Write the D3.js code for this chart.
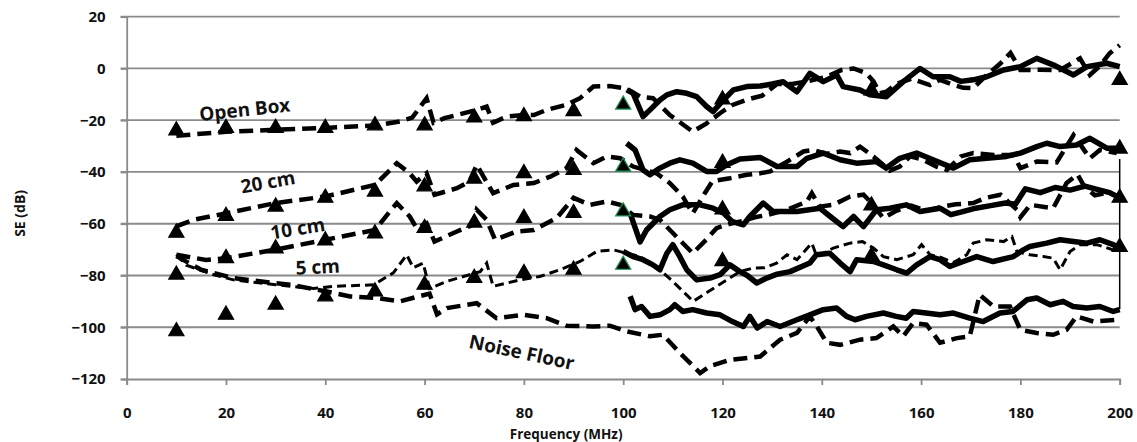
<!DOCTYPE html>
<html>
<head>
<meta charset="utf-8">
<script src="https://cdn.jsdelivr.net/npm/d3@7"></script>
<style>
  body { margin: 0; background: #fff; }
  text { font-family: "Open Sans", "DejaVu Sans", sans-serif; font-weight: bold; fill: #111; }
</style>
</head>
<body>
<div class="chart"></div>
<script>
// ---- data: [frequency MHz, SE dB] ----
let xTicks = [0, 20, 40, 60, 80, 100, 120, 140, 160, 180, 200];
let yTicks = [-120, -100, -80, -60, -40, -20, 0, 20];
let seriesNames = ["Open Box", "20 cm", "10 cm", "5 cm", "Noise Floor"];

let markersOpen = [[10,-24],[20,-23],[30,-23],[40,-23],[50,-22],[60,-22],[70,-19],[80,-18.5],[90,-16.5],[100,-14],[120,-12],[150,-8.5],[200,-4.5]];
let markers20 = [[10,-63.5],[20,-57],[30,-53.4],[40,-50],[50,-47.6],[60,-45.6],[70,-42.6],[80,-40.5],[90,-39.2],[100,-38],[120,-36.5],[200,-31]];
let markers10 = [[10,-79.7],[20,-73.3],[30,-69.6],[40,-66.5],[50,-63.8],[60,-61.7],[70,-59.6],[80,-57.8],[90,-55.9],[100,-55.3],[120,-54.5],[150,-53],[200,-50]];
let markers5 = [[10,-101.6],[20,-95.2],[30,-91.3],[40,-88.1],[50,-86.2],[60,-83.6],[70,-81],[80,-79.1],[90,-77.8],[100,-75.9],[120,-74.5],[150,-72.5],[200,-69]];

let openDash = [[10,-26],[20,-24.5],[30,-23.7],[40,-23],[50,-22],[55,-20.5],[57.5,-19],[60.4,-11.5],[61.8,-21],[64,-19.2],[70.5,-16],[72.5,-14.7],[73.8,-21],[76.5,-18.6],[80,-18],[82,-18],[84.6,-16],[88.6,-14],[91.3,-11.5],[94,-7],[97.3,-6.8],[100.7,-7.8],[103.4,-10.9],[106,-11.5],[109.4,-18],[114,-24.4],[116.8,-21.2],[119.5,-17.3],[122,-14.1],[125,-12],[128,-10.5],[131,-6],[134,-6],[137,-5],[141,-3.2],[144,-0.6],[146.4,0],[149,-1.9],[150.4,-5],[151.7,-9.6],[153,-9],[155,-6],[158,-4],[161.8,-6.4],[163.8,-4.4],[166,-6],[168.5,-7.5],[170.5,-7.6],[173,-3],[176,2],[178,6],[180,-0.6],[184,-0.5],[188,-0.6],[192,3.9],[194,-2.5],[196,1],[198,5.9],[200,9]];
let openSolid = [[100.7,-8.3],[102,-9.6],[104,-18.6],[105.4,-16],[107.4,-12.2],[108.8,-10.2],[110.8,-9],[112.8,-9.6],[114.8,-10.9],[116.8,-14.7],[118.1,-16.7],[120.2,-12.2],[122.2,-8.3],[124.9,-7],[127.6,-6.8],[130,-6],[132.2,-5.1],[135,-9],[137.6,-1.9],[140.3,-5.1],[143,-2.5],[144.3,-7],[147.7,-8.3],[149.7,-10.2],[153,-10.9],[156.4,-5.1],[159.8,0],[162.4,-3.2],[165.8,-3.2],[168,-5],[170.5,-4.4],[173.2,-3.2],[176.6,-0.6],[180,0.7],[183.3,3.9],[186.6,1.4],[190.7,-2.5],[193.4,0.7],[197.4,2],[200,0.7]];

let dash20 = [[10,-61],[13.4,-58.5],[20,-56],[30,-52],[40,-49.5],[50,-45],[54.4,-36.6],[57,-40.5],[58.4,-43.7],[60.4,-40.5],[62,-48.8],[66.5,-46.3],[69,-43.7],[70.5,-37.3],[73.8,-48.2],[77.9,-45],[82,-44.3],[85.3,-41.8],[88.6,-38.5],[90.6,-31.5],[94,-36.6],[96.7,-34],[99.4,-34.7],[102,-37.9],[106.7,-40.5],[109.4,-44.3],[112,-49.5],[114,-56],[116.5,-48],[118,-43.5],[121.5,-42.4],[124.9,-41.1],[127.6,-40.5],[129.6,-39.8],[133,-36],[136.3,-32.1],[138.3,-31.5],[141,-33],[143.7,-32.1],[145.7,-32.7],[147.7,-30.2],[150.4,-34],[152.4,-37.3],[153.7,-39.5],[155.7,-37.9],[157.8,-34],[160.4,-35.3],[163.1,-37.9],[165.2,-39.2],[168,-34],[170.5,-32.7],[174.6,-33.4],[178.6,-33.4],[180,-38.5],[183.3,-36],[187.3,-36.3],[190.7,-25.7],[194,-34.7],[196,-31.5],[199.4,-32.7]];
let solid20 = [[100.7,-28.9],[102.4,-31.5],[104,-39.2],[105.4,-41.1],[107.4,-38.5],[109.4,-36.6],[111.4,-35.3],[114,-36.6],[116.8,-39.8],[118.8,-39.8],[120.8,-37.3],[123.5,-35],[127.6,-34.4],[131,-37.9],[135,-37.9],[137,-34.7],[140.3,-32.7],[143.7,-35.3],[147,-36.6],[151,-36],[153,-38.5],[155.7,-34.7],[159.1,-32.7],[162.4,-35.3],[166.5,-38.5],[169.8,-35.3],[173.2,-34.7],[177.2,-34],[180,-32.7],[183.3,-30.2],[185.3,-28.9],[188,-30.2],[191.3,-29.6],[194,-27],[197.4,-30.8],[200,-30.8]];

let dash10 = [[10,-72],[16,-74],[20,-73.3],[30,-70],[40,-66.2],[50,-62.4],[54.4,-52],[57,-57.2],[58.4,-61.7],[60.4,-59.8],[62,-66.9],[66.5,-63],[69.8,-60.4],[70.5,-54.6],[72.5,-58.5],[74.2,-66.2],[78.5,-63],[82,-62.4],[86.6,-57.8],[90,-50],[93.3,-52.7],[96.7,-51.4],[99.4,-52.7],[102,-56.6],[105.4,-57.2],[107.4,-58.5],[110,-63.6],[114,-71.4],[116.8,-66],[118.8,-61.7],[121.5,-60],[124,-59],[126.5,-57.5],[129,-56.6],[133,-54.6],[137,-51.4],[138,-48.2],[139.6,-53.4],[142.3,-52.7],[145.7,-49.5],[148.4,-48.8],[150,-52],[152.4,-57.8],[155,-55],[158,-53],[161,-55],[164,-53.5],[167,-52.5],[170.5,-52],[173,-50],[176,-48.8],[179.3,-54.6],[180,-57.5],[182,-52.7],[186.6,-54],[189.3,-44.3],[191.5,-41],[193,-46],[195,-49],[197.5,-48],[200,-49.5]];
let solid10 = [[101.4,-56],[103.4,-67],[104.7,-62.4],[107.4,-57.2],[109.4,-54.6],[112,-52.7],[115.5,-52.7],[118.1,-54],[120.2,-55.9],[122,-59.2],[124.2,-60.4],[125.5,-57.2],[128.2,-52],[130.2,-55.3],[135,-55.3],[139.6,-54],[141.7,-57.2],[144.3,-61.1],[146.4,-57.2],[148.4,-61.1],[151,-54.6],[153.7,-54],[157,-52.7],[159.8,-55.3],[163.8,-54],[166,-56.5],[168,-55.5],[171,-54],[174,-53],[177,-52],[179,-52.5],[181,-46.5],[184,-48],[187,-46],[190,-47],[193,-45.5],[196,-47],[198,-48],[200,-50]];

let dash5 = [[10,-72],[12,-76],[17.5,-79.7],[21.5,-81.7],[30,-83.6],[37.6,-85],[41.6,-84.2],[49.7,-83.6],[53.7,-79],[56.4,-72],[57.7,-77],[59.7,-75.2],[61,-85],[64.4,-82.3],[67.8,-80.4],[71.2,-78.5],[72.5,-75.2],[73.8,-84.2],[79.2,-81.7],[83.2,-80.4],[87.2,-77.8],[91.3,-74.6],[94.7,-70.7],[98,-70.1],[100.7,-71.4],[103.4,-72.7],[107.4,-77.8],[110,-82.3],[114.1,-90],[118.8,-84.2],[123.5,-78.5],[126.2,-77.1],[128.5,-77],[130.9,-75.2],[133,-72],[135,-73.9],[138,-67.5],[139,-72.7],[142.3,-69.4],[145.7,-67.5],[148.2,-66.9],[150.4,-69.4],[152.4,-72.7],[155.1,-73.9],[158.4,-72],[160.1,-68.1],[161.8,-72],[164,-73],[166.5,-75],[169.2,-72],[170.5,-67.5],[173.2,-66.2],[176.6,-66.9],[178.3,-65],[179.3,-70.7],[181.9,-72],[184.6,-72.7],[186.6,-73.3],[188,-77.8],[190,-70.7],[192,-68.1],[195.4,-68.1],[198.7,-70.1],[200,-70]];
let solid5 = [[100,-70.7],[102,-72.7],[104,-73.9],[106,-75.9],[107.4,-77.8],[108.8,-71.4],[110,-68.1],[111.4,-72.7],[112.8,-77.8],[114.8,-81.7],[117.5,-81],[119.5,-79.7],[121.5,-75.9],[123.5,-78.5],[125,-80],[126.9,-82.9],[128.9,-81],[131,-79.5],[133.6,-78.5],[137.6,-75.2],[138.9,-72],[141.6,-71.4],[143.7,-75.2],[145.7,-78.5],[147,-73.9],[150.4,-74.6],[152.4,-75.9],[155.1,-77.8],[157.1,-79.1],[159.1,-75.9],[161.8,-72.7],[163.8,-73.9],[165.8,-76.5],[168.5,-74.6],[171.2,-72.7],[174.5,-74.6],[178.6,-72.7],[180.6,-70.1],[181.9,-68.8],[185.3,-67.5],[188,-66.2],[190.7,-66.9],[193.4,-67.5],[196,-66.2],[198.7,-68.1],[200,-69.4]];

let dashNoise = [[10,-72.5],[15,-77.8],[21.5,-81],[30,-83],[33,-83.6],[40.3,-86.2],[45,-88.1],[50.4,-88.7],[55,-90],[59,-88],[61,-87],[62.5,-95],[64.5,-92.6],[70.5,-90.7],[74.5,-96.5],[80,-95.2],[84.6,-96.5],[88.6,-99.4],[94,-99.7],[97.3,-99.4],[100.7,-101.6],[105.4,-103.5],[108,-102.9],[111.4,-109.9],[115.5,-117.7],[117.5,-115],[121.5,-112.6],[127.6,-111.3],[131.6,-104.8],[135,-102.2],[137.6,-95.8],[139,-99.7],[141,-106],[143.7,-106.8],[147.7,-104.8],[151,-104.2],[154.4,-99.7],[156.4,-103.5],[158.4,-98.4],[161.1,-99],[163.8,-106],[167.2,-104.2],[169.8,-103.5],[171.8,-87.5],[174.6,-92],[177.9,-92],[180,-101],[183.3,-102.2],[186.6,-102.9],[189.3,-101],[191.3,-95.8],[194.7,-97.8],[200,-97.1]];
let solidNoise = [[101.4,-88],[102.4,-93.2],[103.7,-92],[105.4,-95.8],[107.4,-95.2],[109.4,-93.2],[110.4,-91.3],[112,-93.9],[114,-93.2],[116.8,-94.5],[119.5,-95.2],[122,-97.8],[124.2,-99.7],[125.5,-95.8],[127,-100.3],[129,-97.8],[131.6,-99.7],[135,-97.1],[137.6,-95.2],[140.3,-93.2],[143,-92.6],[145,-95.8],[146.7,-97.1],[149,-95.8],[152.4,-94.5],[155,-95.8],[157,-96.5],[158.4,-93.9],[161,-94.5],[163.8,-95.2],[166.5,-94.5],[169.8,-96.5],[172.5,-97.8],[175.9,-94.5],[178.5,-93.9],[181.3,-89.4],[183.3,-88.7],[186,-91.3],[188.6,-90],[190.6,-92],[193.4,-92.6],[196,-92],[198.7,-93.9],[200,-93.2]];

let edgeLine = [[200,-35],[200,-93]];

// ---- layout ----
let svgWidth = 1137;
let svgHeight = 442;

let margin = {
  top: 16.7,
  right: 17.3,
  bottom: 63,
  left: 126.7
};

let width = svgWidth - margin.left - margin.right;
let height = svgHeight - margin.top - margin.bottom;

let svg = d3.select(".chart")
  .append("svg")
  .attr("width", svgWidth)
  .attr("height", svgHeight);

let chartGroup = svg.append("g")
  .attr("transform", `translate(${margin.left}, ${margin.top})`);

let xScale = d3.scaleLinear().domain([0, 200]).range([0, width]);
let yScale = d3.scaleLinear().domain([-120, 20]).range([height, 0]);

// gridlines
chartGroup.append("g")
  .selectAll("line")
  .data(yTicks.filter(d => d > -120))
  .enter()
  .append("line")
  .attr("x1", -6)
  .attr("x2", width)
  .attr("y1", d => yScale(d))
  .attr("y2", d => yScale(d))
  .attr("stroke", "#8a8a8a")
  .attr("stroke-width", 1.8);

// axes
let bottomAxis = d3.axisBottom(xScale).tickValues(xTicks).tickSize(6).tickPadding(22);
let leftAxis = d3.axisLeft(yScale).tickValues(yTicks).tickSize(6).tickPadding(15);

let xAxisG = chartGroup.append("g")
  .attr("transform", `translate(0, ${height})`)
  .call(bottomAxis);

let yAxisG = chartGroup.append("g")
  .call(leftAxis);

[xAxisG, yAxisG].forEach(g => {
  g.select(".domain").attr("stroke", "#8a8a8a").attr("stroke-width", 1.8);
  g.selectAll(".tick line").attr("stroke", "#8a8a8a").attr("stroke-width", 1.8);
  g.selectAll(".tick text")
    .attr("fill", "#111")
    .style("font-size", "15px")
    .style("font-family", "'Open Sans', sans-serif")
    .style("font-weight", "bold");
});

let line = d3.line()
  .x(d => xScale(d[0]))
  .y(d => yScale(d[1]));

let dashed = [openDash, dash20, dash10, dashNoise];
let solids = [openSolid, solid20, solid10, solid5, solidNoise];

chartGroup.append("g")
  .selectAll("path")
  .data(dashed)
  .enter()
  .append("path")
  .attr("d", line)
  .attr("fill", "none")
  .attr("stroke", "#000")
  .attr("stroke-width", 4.5)
  .attr("stroke-dasharray", "14,7");

// the 5 cm dashed trace is thinner
chartGroup.append("path")
  .attr("d", line(dash5))
  .attr("fill", "none")
  .attr("stroke", "#000")
  .attr("stroke-width", 3)
  .attr("stroke-dasharray", "9,5");

chartGroup.append("g")
  .selectAll("path")
  .data(solids)
  .enter()
  .append("path")
  .attr("d", line)
  .attr("fill", "none")
  .attr("stroke", "#000")
  .attr("stroke-width", 5.5)
  .attr("stroke-linejoin", "round");

chartGroup.append("path")
  .attr("d", line(edgeLine))
  .attr("stroke", "#000")
  .attr("stroke-width", 1.5);

// triangle markers
let tri = d3.symbol().type(d3.symbolTriangle).size(100);
let allMarkers = [].concat(markersOpen, markers20, markers10, markers5);

chartGroup.append("g")
  .selectAll("path")
  .data(allMarkers)
  .enter()
  .append("path")
  .attr("d", tri)
  .attr("transform", d => `translate(${xScale(d[0])}, ${yScale(d[1])})`)
  .attr("fill", "#000")
  .attr("stroke", d => d[0] === 100 ? "#1a9850" : "#000")
  .attr("stroke-width", 1.2);

// series labels
let labelSpots = [
  { f: 23.8, v: -16.5, rot: -6 },
  { f: 28.5, v: -44.5, rot: -10 },
  { f: 34.5, v: -62.5, rot: -9 },
  { f: 38.5, v: -77.3, rot: -3 },
  { f: 79.5, v: -110.3, rot: 12 }
];

chartGroup.selectAll(".seriesLabel")
  .data(seriesNames)
  .enter()
  .append("text")
  .attr("class", "seriesLabel")
  .attr("text-anchor", "middle")
  .attr("dominant-baseline", "middle")
  .attr("transform", (d, i) => `translate(${xScale(labelSpots[i].f)}, ${yScale(labelSpots[i].v)}) rotate(${labelSpots[i].rot})`)
  .style("font-size", "19px")
  .text(d => d);

// axis titles
chartGroup.append("text")
  .attr("transform", "rotate(-90)")
  .attr("y", 0 - margin.left + 20)
  .attr("x", 0 - (yScale(-56)))
  .attr("dy", "0.35em")
  .attr("text-anchor", "middle")
  .style("font-size", "14px")
  .text("SE (dB)");

chartGroup.append("text")
  .attr("transform", `translate(${xScale(88.5)}, ${height + 59.5})`)
  .attr("text-anchor", "middle")
  .style("font-size", "13.5px")
  .text("Frequency (MHz)");
</script>
</body>
</html>
